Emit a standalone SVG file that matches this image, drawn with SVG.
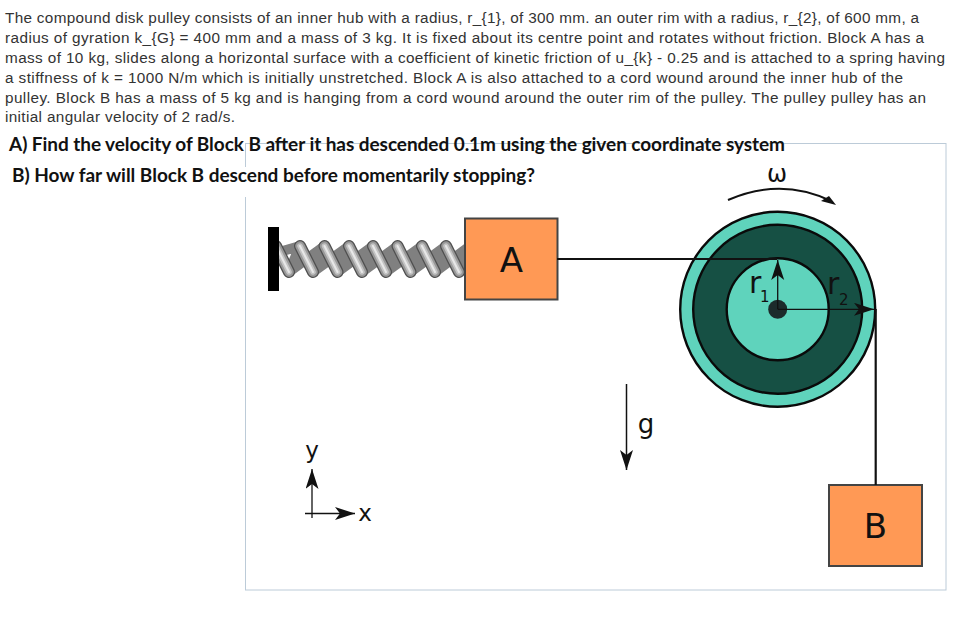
<svg xmlns="http://www.w3.org/2000/svg" width="956" height="624" viewBox="0 0 956 624">
<style>
.body{font-family:"Liberation Sans",Arial,sans-serif;font-size:15.3px;fill:#333}
.q{font-family:Lato,"Open Sans",sans-serif;font-weight:700;font-size:19px;fill:#111}
.lab{font-family:"DejaVu Sans",sans-serif;fill:#111}
.block{fill:#ff9955;stroke:#444;stroke-width:2}
.ln{fill:none;stroke:#111;stroke-linecap:butt}
.ring{stroke:#0a0a0a;stroke-width:2.4}
</style>
<defs>
<marker id="ah" markerUnits="userSpaceOnUse" markerWidth="22" markerHeight="15" refX="20" refY="6.500" orient="auto">
<path d="M0 0L20 6.500L0 13L5 6.500Z" fill="#111"/>
</marker>
<g id="turn" fill="none" stroke-linecap="round">
<path d="M0 0L13 26" stroke="#505050" stroke-width="12"/>
<path d="M0 0L13 26" stroke="#989898" stroke-width="9.500"/>
<path d="M0 0L13 26" stroke="#c4c4c4" stroke-width="5.500"/>
<path d="M0 0L13 26" stroke="#e8e8e8" stroke-width="2"/>
</g>
</defs>
<rect width="956" height="624" fill="#fff"/>
<g id="frame"><rect x="245.500" y="143.500" width="700.500" height="446.500" fill="none" stroke="#bccbd8"/><rect x="0" y="167" width="560" height="30" fill="#fff"/></g>
<g id="problem-text">
<text class="body" x="5" y="23" textLength="914">The compound disk pulley consists of an inner hub with a radius, r_{1}, of 300 mm. an outer rim with a radius, r_{2}, of 600 mm, a</text>
<text class="body" x="5" y="43" textLength="919">radius of gyration k_{G} = 400 mm and a mass of 3 kg. It is fixed about its centre point and rotates without friction. Block A has a</text>
<text class="body" x="5" y="63" textLength="940">mass of 10 kg, slides along a horizontal surface with a coefficient of kinetic friction of u_{k} - 0.25 and is attached to a spring having</text>
<text class="body" x="5" y="83" textLength="898">a stiffness of k = 1000 N/m which is initially unstretched. Block A is also attached to a cord wound around the inner hub of the</text>
<text class="body" x="5" y="103" textLength="921">pulley. Block B has a mass of 5 kg and is hanging from a cord wound around the outer rim of the pulley. The pulley pulley has an</text>
<text class="body" x="5" y="122" textLength="230">initial angular velocity of 2 rad/s.</text>
<text class="q" x="9" y="151" textLength="776">A) Find the velocity of Block B after it has descended 0.1m using the given coordinate system</text>
<text class="q" x="12" y="182" textLength="523">B) How far will Block B descend before momentarily stopping?</text>
</g>
<g id="spring">
<path d="M279 252L300 246L289 272L324.500 246L313 272L349 246L337.500 272L373 246L362 272L397.500 246L386 272L422 246L410.500 272L446 246L435 272L470 246L459 272L470 258" fill="none" stroke="#808080" stroke-width="10" stroke-linejoin="round"/>
<use href="#turn" x="276" y="246"/><use href="#turn" x="300" y="246"/><use href="#turn" x="324.500" y="246"/><use href="#turn" x="349" y="246"/><use href="#turn" x="373" y="246"/><use href="#turn" x="397.500" y="246"/><use href="#turn" x="422" y="246"/><use href="#turn" x="446" y="246"/>
<rect x="268" y="227" width="11" height="64" fill="#000"/>
</g>
<g id="block-a"><rect class="block" x="465" y="218.500" width="92.500" height="81"/><text class="lab" x="511.500" y="271.500" font-size="34" text-anchor="middle">A</text></g>
<g id="block-b"><rect class="block" x="829" y="485" width="93" height="81"/><text class="lab" x="875.500" y="537.500" font-size="34" text-anchor="middle">B</text></g>
<g id="pulley">
<circle class="ring" cx="777.700" cy="309.300" r="97.500" fill="#5fd3bc"/>
<circle class="ring" cx="777.700" cy="309.300" r="84.500" fill="#165044"/>
<circle class="ring" cx="777.700" cy="309.300" r="51" fill="#5fd3bc"/>
<circle cx="777.700" cy="309.300" r="9.500" fill="#1c2b2b"/>
<path class="ln" d="M777.700 309V260" stroke-width="1.300" marker-end="url(#ah)"/>
<path class="ln" d="M777.700 309.300H874" stroke-width="1.300" marker-end="url(#ah)"/>
<text class="lab" x="749" y="293" font-size="30">r</text><text class="lab" x="760" y="302" font-size="15">1</text>
<text class="lab" x="827" y="294" font-size="30">r</text><text class="lab" x="839" y="305" font-size="15">2</text>
</g>
<g id="connectors">
<path class="ln" d="M557 259H777" stroke-width="2.200"/>
<path class="ln" d="M875.700 309V485" stroke-width="2.200"/>
</g>
<g id="omega">
<path class="ln" d="M728 200Q781 177 831 201" stroke-width="2"/><path d="M836 205L821 201L829 196Z" fill="#111"/>
<text class="lab" x="777" y="182" font-size="24" text-anchor="middle">ω</text>
</g>
<g id="gravity">
<path class="ln" d="M626.500 384V470" stroke="#555" stroke-width="1.500" marker-end="url(#ah)"/>
<text class="lab" x="646" y="433" font-size="26" text-anchor="middle">g</text>
</g>
<g id="axes">
<path class="ln" d="M312 518V469" stroke-width="1.300" marker-end="url(#ah)"/>
<path class="ln" d="M305 513.500H355" stroke-width="1.300" marker-end="url(#ah)"/>
<text class="lab" x="312" y="458" font-size="23" text-anchor="middle">y</text>
<text class="lab" x="365" y="521" font-size="23" text-anchor="middle">x</text>
</g>
</svg>
